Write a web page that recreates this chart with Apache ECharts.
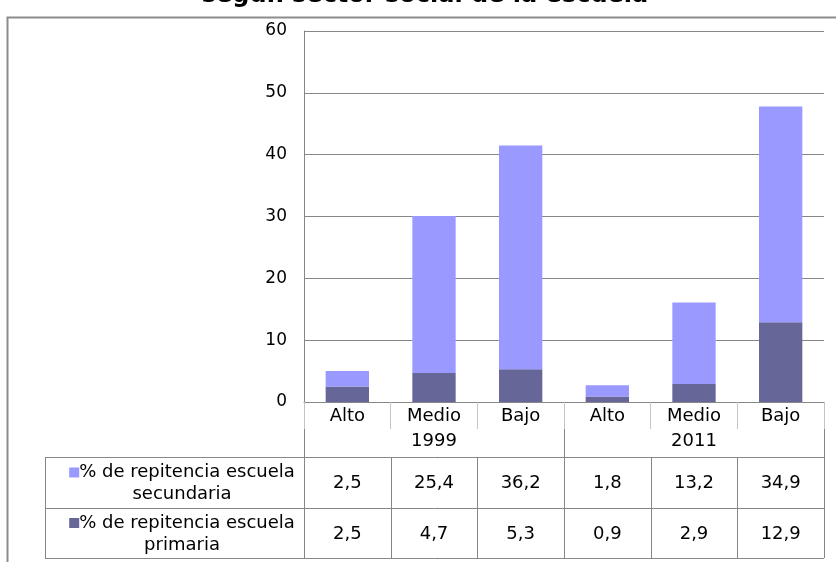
<!DOCTYPE html>
<html>
<head>
<meta charset="utf-8">
<script src="https://cdn.jsdelivr.net/npm/echarts@6/dist/echarts.min.js"></script>
<style>
html, body { margin: 0; padding: 0; background: #fff; }
#chart { width: 836px; height: 562px; }
</style>
</head>
<body>
<div id="chart"></div>
<script>
// datos
var titleText = 'según sector social de la escuela';
var categories = ['Alto', 'Medio', 'Bajo', 'Alto', 'Medio', 'Bajo'];
var years = ['1999', '2011'];
var secundaria = [2.5, 25.4, 36.2, 1.8, 13.2, 34.9];
var primaria = [2.5, 4.7, 5.3, 0.9, 2.9, 12.9];
var rowNames = ['% de repitencia escuela\nsecundaria', '% de repitencia escuela\nprimaria'];
var yMin = 0, yMax = 60, yStep = 10;

var FONT = 'DejaVu Sans';
var lineColor = '#868686';
var colors = { secundaria: '#9999FF', primaria: '#666699' };

// layout
var gridL = 304, gridR = 824, gridT = 31, gridB = 402;
var colW = (gridR - gridL) / categories.length;
var tableL = 45, rowTop = 457, rowMid = 508, rowBot = 558;

function fmt(v) { return v.toFixed(1).replace('.', ','); }

var chart = echarts.init(document.getElementById('chart'));

var graphics = [];

// marco exterior
graphics.push({
    type: 'polyline', silent: true,
    shape: { points: [[7.5, 562], [7.5, 17.5], [836, 17.5]] },
    style: { stroke: '#8c8c8c', lineWidth: 2, fill: null }
});

// titulo (cortado arriba)
graphics.push({
    type: 'text', silent: true, x: 425, y: -4,
    style: { text: titleText, align: 'center', verticalAlign: 'middle',
             font: 'bold 24px "' + FONT + '"', fill: '#000' }
});

// lineas de la tabla
function hline(y, x1, x2) {
    graphics.push({ type: 'line', silent: true, shape: { x1: x1, y1: y, x2: x2, y2: y },
                    style: { stroke: lineColor, lineWidth: 1 } });
}
function vline(x, y1, y2) {
    graphics.push({ type: 'line', silent: true, shape: { x1: x, y1: y1, x2: x, y2: y2 },
                    style: { stroke: lineColor, lineWidth: 1 } });
}
hline(rowTop + 0.5, tableL, gridR);
hline(rowMid + 0.5, tableL, gridR);
hline(rowBot + 0.5, tableL, gridR);
vline(tableL + 0.5, rowTop, rowBot);
for (var i = 0; i <= categories.length; i++) {
    var x = Math.round(gridL + i * colW) + 0.5;
    var full = (i % 3 === 0);
    vline(x, full ? gridB : rowTop, rowBot);
}

// filas de la tabla
var rows = [
    { name: rowNames[0], values: secundaria, color: colors.secundaria, y1: rowTop, y2: rowMid },
    { name: rowNames[1], values: primaria, color: colors.primaria, y1: rowMid, y2: rowBot }
];
rows.forEach(function (row) {
    var cy = (row.y1 + row.y2) / 2 + 1;
    graphics.push({
        type: 'text', silent: true, x: 182, y: cy,
        style: {
            text: '{sw|}' + row.name, align: 'center', verticalAlign: 'middle',
            font: '18px "' + FONT + '"', fill: '#000', lineHeight: 22,
            rich: { sw: { width: 10, height: 10, backgroundColor: row.color } }
        }
    });
    row.values.forEach(function (v, i) {
        graphics.push({
            type: 'text', silent: true, x: gridL + (i + 0.5) * colW, y: cy,
            style: { text: fmt(v), align: 'center', verticalAlign: 'middle',
                     font: '18px "' + FONT + '"', fill: '#000' }
        });
    });
});

chart.setOption({
    animation: false,
    backgroundColor: '#fff',
    grid: { left: gridL, top: gridT, width: gridR - gridL, height: gridB - gridT },
    xAxis: [{
        type: 'category',
        data: categories,
        axisLine: { lineStyle: { color: lineColor } },
        axisTick: { show: true, interval: 0, length: 27, lineStyle: { color: '#c4c4c4' } },
        axisLabel: { interval: 0, margin: 5, fontSize: 18, fontFamily: FONT, color: '#000' }
    }, {
        type: 'category',
        data: years,
        position: 'bottom',
        offset: 26,
        axisLine: { show: false },
        axisTick: { show: false },
        axisLabel: { interval: 0, margin: 4, fontSize: 18, fontFamily: FONT, color: '#000' }
    }],
    yAxis: {
        type: 'value',
        min: yMin, max: yMax, interval: yStep,
        axisLine: { show: true, lineStyle: { color: lineColor } },
        axisTick: { show: false },
        axisLabel: { margin: 17, fontSize: 17, fontFamily: FONT, color: '#000' },
        splitLine: { lineStyle: { color: lineColor } }
    },
    series: [{
        name: 'primaria',
        type: 'bar',
        stack: 'total',
        barWidth: '50%',
        data: primaria,
        itemStyle: { color: colors.primaria }
    }, {
        name: 'secundaria',
        type: 'bar',
        stack: 'total',
        barWidth: '50%',
        data: secundaria,
        itemStyle: { color: colors.secundaria }
    }],
    graphic: graphics
});
</script>
</body>
</html>
